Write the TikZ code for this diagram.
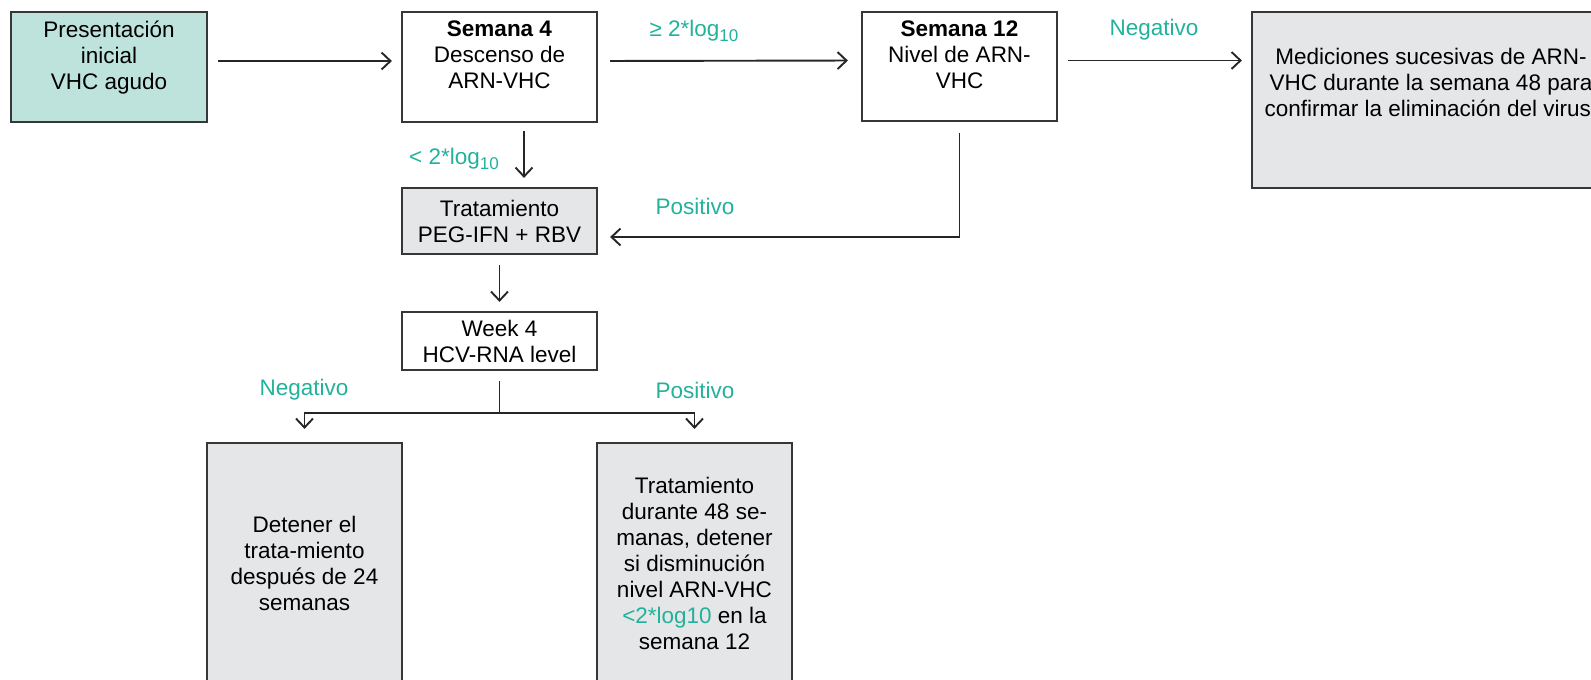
\documentclass[tikz,border=0pt]{standalone}
\usepackage{fontspec}
\setmainfont{Liberation Sans}
\usetikzlibrary{arrows.meta, positioning, calc}

\definecolor{tealtxt}{RGB}{34,178,156}
\definecolor{tealfill}{RGB}{190,227,220}
\definecolor{grayfill}{RGB}{229,230,232}
\definecolor{edgegray}{RGB}{55,55,55}

\newcommand{\lowten}{\raisebox{-5pt}{\fontsize{17}{17}\selectfont 10}}

\begin{document}
\begin{tikzpicture}[
		x=1pt, y=-1pt,
		>={Straight Barb[length=9pt,width=17pt,line width=1.9pt]},
		font=\fontsize{22.5}{26}\selectfont,
		box/.style={draw=edgegray, line width=2.2pt, fill=white, inner sep=0pt, align=center},
		greybox/.style={box, fill=grayfill},
		txt/.style={align=center, inner sep=0pt},
		lbl/.style={text=tealtxt, inner sep=0pt},
		wire/.style={line width=1.9pt, draw=black!85},
		flow/.style={wire, ->, shorten <=10pt, shorten >=9pt}
		]
		\useasboundingbox (0,0) rectangle (1591,680);
		\clip (0,0) rectangle (1591,680);
		
		% =========================================================
		% 1. Top row
		% =========================================================
		\node[box, fill=tealfill, minimum width=196pt, minimum height=110pt] (ini) at (109,67) {};
		\node[txt, below=10pt of ini.north] (ini-t) {Presentación\\inicial\\VHC agudo};
		
		\node[box, minimum width=195pt, minimum height=110pt] (sem4) at (499.5,67) {};
		\node[txt, below=10pt of sem4.north] (sem4-t) {\textbf{Semana 4}\\Descenso de\\ARN-VHC};
		
		\node[box, minimum width=195pt, minimum height=109pt] (sem12) at (959.5,66.5) {};
		\node[txt, below=10pt of sem12.north] (sem12-t) {\textbf{Semana 12}\\Nivel de ARN-\\VHC};
		
		\node[greybox, minimum width=358pt, minimum height=176pt] (medic) at (1431,100) {};
		\node[txt, below=37pt of medic.north] (medic-t) {Mediciones sucesivas de ARN-\\VHC durante la semana 48 para\\confirmar la eliminación del virus.};
		
		% =========================================================
		% 2. Treatment and week 4 check
		% =========================================================
		\node[greybox, minimum width=195pt, minimum height=66pt] (trat) at (499.5,221) {Tratamiento\\PEG-IFN + RBV};
		\node[box, minimum width=195pt, minimum height=58pt] (week) at (499.5,341) {Week 4\\HCV-RNA level};
		
		% =========================================================
		% 3. Outcomes
		% =========================================================
		\node[greybox, minimum width=195pt, minimum height=240pt] (stop) at (304.5,563) {Detener el\\trata-miento\\después de 24\\semanas};
		\node[greybox, minimum width=195pt, minimum height=240pt] (cont) at (694.5,563) {Tratamiento\\durante 48 se-\\manas, detener\\si disminución\\nivel ARN-VHC\\\textcolor{tealtxt}{<2*log10} en la\\semana 12};
		
		% labels
		\node[lbl] (geq) at (694,31) {≥ 2*log\lowten};
		\node[lbl] (neg-top) at (1154,30) {Negativo};
		\node[lbl] (less) at (454,159) {< 2*log\lowten};
		\node[lbl] (pos-mid) at (695,206) {Positivo};
		\node[lbl] (neg-low) at (304,390) {Negativo};
		\node[lbl] (pos-low) at (695,390) {Positivo};
		
		% =========================================================
		% 4. Connectors
		% =========================================================
		\draw[flow] ([yshift=6pt]ini.east) -- ([yshift=6pt]sem4.west);
		\draw[flow, shorten <=12pt, shorten >=13pt] ([yshift=6pt]sem4.east) -- ([yshift=6pt]sem12.west);
		\draw[flow] ([yshift=6pt]sem12.east) -- ([yshift=6pt]sem12.east -| medic.west);
		
		\draw[flow, shorten <=8pt] ([xshift=24.5pt]sem4.south) -- ([xshift=24.5pt]sem4.south |- trat.north);
		\draw[flow, shorten <=11pt, shorten >=12pt] (sem12.south) |- ([yshift=-16pt]trat.east);
		\draw[flow] (trat) -- (week);
		
		\coordinate (fork) at ($(week.south)+(0,42)$);
		\draw[wire, shorten <=10pt] (week.south) -- (fork);
		\draw[flow, shorten <=0pt, shorten >=13pt] (fork) -| (stop.north);
		\draw[flow, shorten <=0pt, shorten >=13pt] (fork) -| (cont.north);
	\end{tikzpicture}
\end{document}
